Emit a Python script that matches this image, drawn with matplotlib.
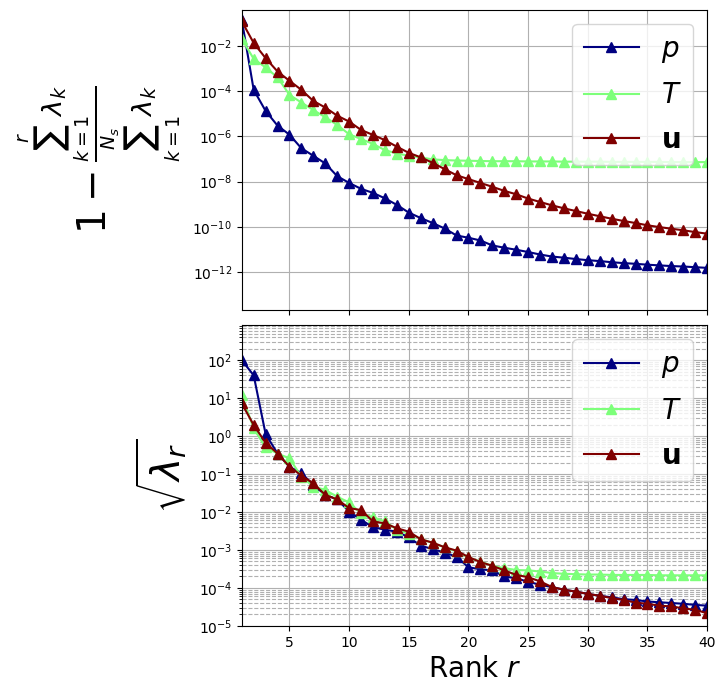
import matplotlib
matplotlib.use('Agg')
import matplotlib.pyplot as plt
from matplotlib.ticker import NullLocator
import numpy as np

# rank axis
ranks = np.arange(1, 41)

# log10 of 1 - cumulative energy ratio (top panel)
p_resid_log = [-0.85, -3.95, -4.88, -5.53, -5.93, -6.53, -6.86, -7.20, -7.76, -8.06,
               -8.32, -8.50, -8.74, -9.03, -9.37, -9.61, -9.83, -10.07, -10.38, -10.48,
               -10.60, -10.82, -10.92, -11.01, -11.11, -11.22, -11.31, -11.36, -11.42, -11.47,
               -11.51, -11.56, -11.60, -11.63, -11.67, -11.70, -11.73, -11.75, -11.78, -11.81]
T_resid_log = [-1.70, -2.58, -2.96, -3.40, -4.17, -4.51, -4.84, -5.16, -5.50, -5.91,
               -6.12, -6.34, -6.61, -6.76, -6.86, -6.93, -7.02, -7.05, -7.07, -7.08,
               -7.09, -7.10, -7.10, -7.10, -7.11, -7.11, -7.11, -7.12, -7.12, -7.12,
               -7.12, -7.13, -7.13, -7.13, -7.13, -7.13, -7.14, -7.14, -7.14, -7.14]
u_resid_log = [-0.92, -1.88, -2.55, -3.14, -3.55, -3.95, -4.44, -4.73, -5.09, -5.35,
               -5.72, -5.94, -6.17, -6.46, -6.73, -6.93, -7.17, -7.45, -7.72, -7.89,
               -8.06, -8.23, -8.41, -8.56, -8.75, -8.90, -9.05, -9.18, -9.30, -9.42,
               -9.53, -9.64, -9.74, -9.83, -9.93, -10.01, -10.08, -10.15, -10.23, -10.30]

# log10 of sqrt(lambda_r) (bottom panel)
p_sv_log = [2.00, 1.60, 0.05, -0.46, -0.81, -0.98, -1.29, -1.55, -1.67, -1.99,
            -2.21, -2.40, -2.47, -2.52, -2.67, -2.89, -2.98, -3.07, -3.18, -3.46,
            -3.51, -3.54, -3.70, -3.75, -3.84, -3.92, -3.98, -4.05, -4.10, -4.16,
            -4.21, -4.25, -4.30, -4.32, -4.36, -4.38, -4.40, -4.42, -4.45, -4.47]
T_sv_log = [1.08, 0.20, -0.30, -0.46, -0.59, -1.07, -1.33, -1.42, -1.60, -1.75,
            -2.04, -2.14, -2.25, -2.47, -2.58, -2.71, -2.82, -2.93, -3.04, -3.20,
            -3.31, -3.42, -3.48, -3.53, -3.54, -3.57, -3.61, -3.63, -3.64, -3.65,
            -3.65, -3.66, -3.66, -3.66, -3.66, -3.67, -3.67, -3.67, -3.67, -3.67]
u_sv_log = [0.86, 0.29, -0.18, -0.46, -0.81, -1.04, -1.25, -1.55, -1.67, -1.90,
            -1.95, -2.25, -2.30, -2.43, -2.52, -2.72, -2.81, -2.93, -3.02, -3.19,
            -3.32, -3.42, -3.54, -3.66, -3.72, -3.83, -3.98, -4.05, -4.10, -4.16,
            -4.21, -4.27, -4.32, -4.39, -4.42, -4.47, -4.49, -4.54, -4.58, -4.67]

labels = [r'$p$', r'$T$', r'$\mathbf{u}$']
colors = [plt.cm.jet(0.0), plt.cm.jet(0.5), plt.cm.jet(1.0)]

fig, (ax1, ax2) = plt.subplots(2, 1, figsize=(7.26, 6.93), sharex=True)
fig.subplots_adjust(left=0.333, right=0.974, top=0.986, bottom=0.097, hspace=0.05)

# top: residual energy
for vals, lab, c in zip([p_resid_log, T_resid_log, u_resid_log], labels, colors):
    ax1.semilogy(ranks, 10.0 ** np.array(vals), '-^', color=c, label=lab, markersize=6.5, linewidth=1.5)
ax1.set_ylim(10 ** -13.68, 10 ** -0.41)
ax1.yaxis.set_minor_locator(NullLocator())
ax1.grid(True, which='major')
ax1.legend(fontsize=20, loc='upper right', labelspacing=0.6)
ax1.set_ylabel(r'$1-\frac{\sum_{k=1}^{r}\lambda_k}{\sum_{k=1}^{N_s}\lambda_k}$', fontsize=28)
ax1.yaxis.set_label_coords(-0.127, 0.5)

# bottom: singular values
for vals, lab, c in zip([p_sv_log, T_sv_log, u_sv_log], labels, colors):
    ax2.semilogy(ranks, 10.0 ** np.array(vals), '-^', color=c, label=lab, markersize=6.5, linewidth=1.5)
ax2.set_ylim(1e-5, 10 ** 2.92)
ax2.grid(True, which='major')
ax2.grid(True, which='minor', axis='y', linestyle='--')
ax2.legend(fontsize=20, loc='upper right', labelspacing=0.6)
ax2.set_ylabel(r'$\sqrt{\lambda_r}$', fontsize=28)
ax2.yaxis.set_label_coords(-0.112, 0.5)
ax2.set_xlabel(r'Rank $r$', fontsize=20)
ax2.set_xlim(1, 40)
ax2.set_xticks([5, 10, 15, 20, 25, 30, 35, 40])

plt.savefig('out.png', dpi=100)
plt.close()
